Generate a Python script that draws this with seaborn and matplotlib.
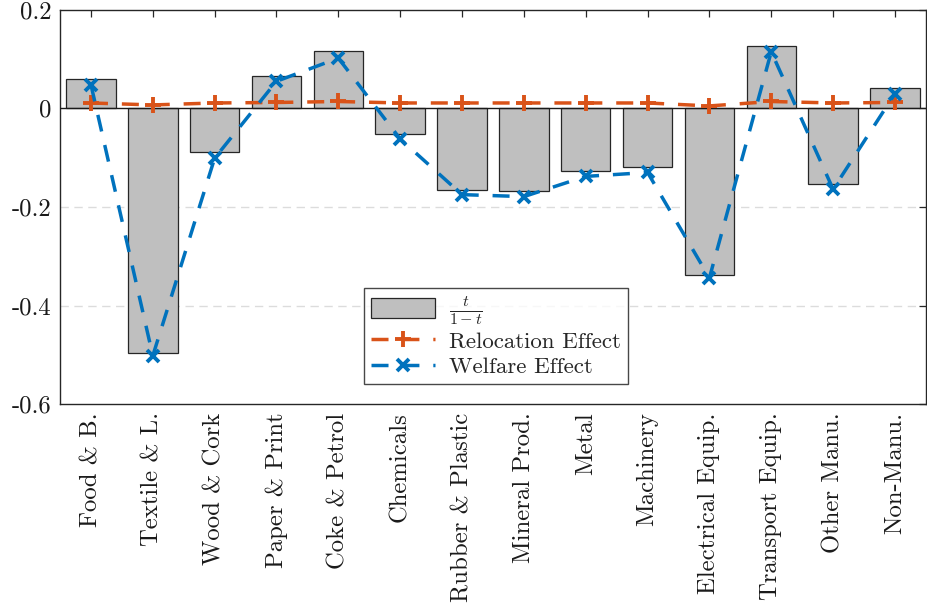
import numpy as np
import pandas as pd
import matplotlib
matplotlib.use("Agg")
import matplotlib.pyplot as plt
import seaborn as sns

categories = ["Food & B.", "Textile & L.", "Wood & Cork", "Paper & Print", "Coke & Petrol",
              "Chemicals", "Rubber & Plastic", "Mineral Prod.", "Metal", "Machinery",
              "Electrical Equip.", "Transport Equip.", "Other Manu.", "Non-Manu."]
tax_ratio = [0.060, -0.497, -0.089, 0.066, 0.116, -0.051, -0.165, -0.168, -0.127, -0.119,
             -0.338, 0.126, -0.153, 0.042]
relocation = [0.011, 0.007, 0.011, 0.012, 0.014, 0.011, 0.011, 0.011, 0.011, 0.011,
              0.005, 0.014, 0.011, 0.012]
welfare = [0.048, -0.502, -0.101, 0.055, 0.102, -0.062, -0.175, -0.179, -0.138, -0.130,
           -0.344, 0.115, -0.164, 0.030]
yticks = [-0.6, -0.4, -0.2, 0, 0.2]
ytick_labels = ["-0.6", "-0.4", "-0.2", "0", "0.2"]

sns.set_style("white")
plt.rcParams["font.family"] = ["cmr10", "DejaVu Serif"]
plt.rcParams["mathtext.fontset"] = "cm"
plt.rcParams["axes.unicode_minus"] = False

blue = "#0072BD"
orange = "#D95319"

fig = plt.figure(figsize=(9.28, 6.15), dpi=100)
ax = fig.add_axes([0.0647, 0.343, 0.933, 0.641])

df = pd.DataFrame({"cat": categories, "val": tax_ratio})
sns.barplot(data=df, x="cat", y="val", order=categories, color="#BFBFBF", saturation=1,
            width=0.8, edgecolor="#262626", linewidth=0.9, ax=ax, label=r"$\frac{t}{1-t}$",
            zorder=2)

ax.axhline(0, color="#1a1a1a", lw=1.0, zorder=3)

xpos = np.arange(len(categories))
sns.lineplot(x=xpos, y=relocation, ax=ax, color=orange, lw=2.5, marker="+",
             markersize=11, label="Relocation Effect", zorder=4)
ln = ax.lines[-1]
ln.set_linestyle((0, (4.9, 4.0)))
ln.set_markeredgewidth(2.8)
ln.set_markeredgecolor(orange)

sns.lineplot(x=xpos, y=welfare, ax=ax, color=blue, lw=2.5, marker="x",
             markersize=8.5, label="Welfare Effect", zorder=5)
ln = ax.lines[-1]
ln.set_linestyle((0, (4.9, 4.0)))
ln.set_markeredgewidth(2.8)
ln.set_markeredgecolor(blue)

ax.set_xlim(-0.5, len(categories) - 0.5)
ax.set_ylim(-0.6, 0.2)
ax.set_yticks(yticks)
ax.set_yticklabels(ytick_labels)
ax.set_xticks(xpos)
ax.set_xticklabels(categories, rotation=90)
ax.set_xlabel("")
ax.set_ylabel("")

for y in [-0.4, -0.2]:
    ax.axhline(y, color="#DCDCDC", lw=1.0, dashes=(6, 4), zorder=0)

ax.tick_params(axis="both", direction="in", length=5, width=0.9, color="#262626",
               top=True, right=True, labelsize=17.8, pad=6, labelcolor="#1a1a1a")
for s in ax.spines.values():
    s.set_color("#262626")
    s.set_linewidth(1.0)
    s.set_visible(True)

handles, labels = ax.get_legend_handles_labels()
order = [labels.index(r"$\frac{t}{1-t}$"), labels.index("Relocation Effect"),
         labels.index("Welfare Effect")]
leg = ax.legend([handles[i] for i in order], [labels[i] for i in order],
                loc="upper left", bbox_to_anchor=(364 / 928, 1 - 288 / 615),
                bbox_transform=fig.transFigure, borderaxespad=0, fontsize=16.5,
                frameon=True, fancybox=False,
                edgecolor="#1a1a1a", handlelength=2.8, handleheight=0.95, borderpad=0.3,
                labelspacing=0.15, handletextpad=0.6)
leg.get_frame().set_linewidth(1.0)

fig.savefig("out.png", dpi=100)
